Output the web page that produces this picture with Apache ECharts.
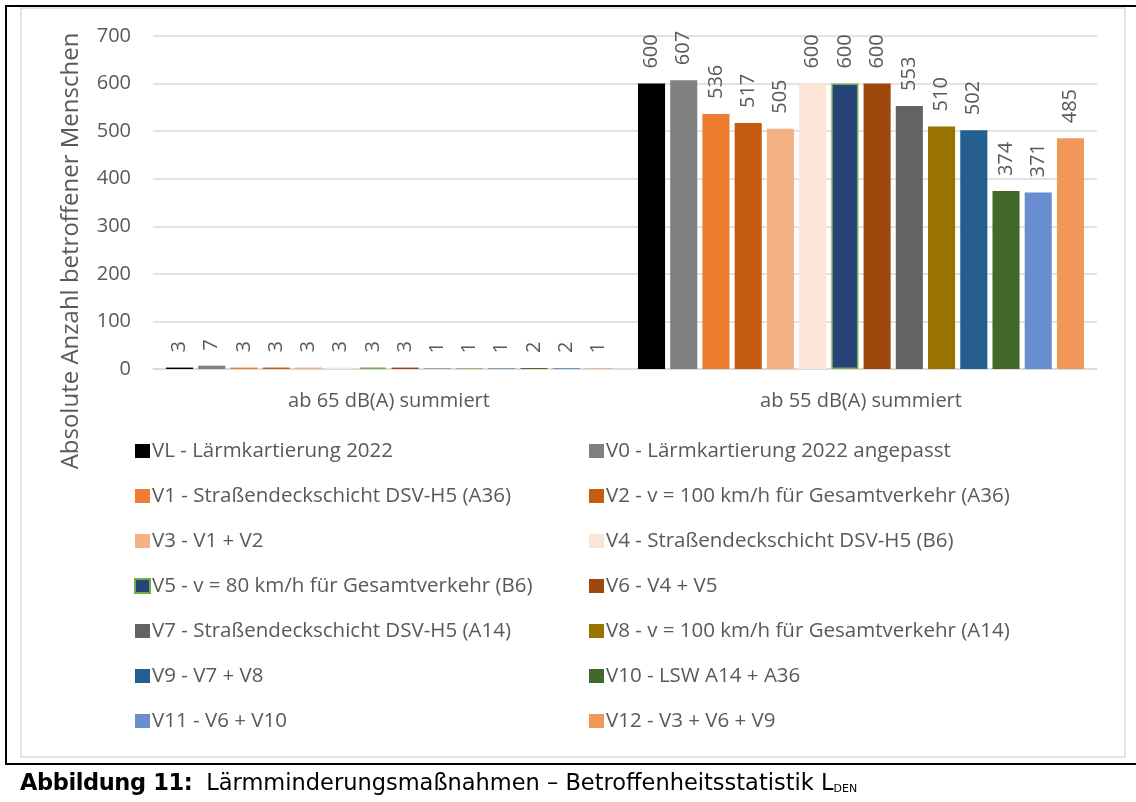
<html>
    <head>
        <meta charset="utf-8">
        <title>Betroffenheitsstatistik</title>
        <script src="https://cdn.jsdelivr.net/npm/echarts@6/dist/echarts.min.js"></script>
        <style>
            body { margin: 0; background: #fff; overflow: hidden; }
            #frame {
                position: absolute; left: 5px; top: 5px; width: 1200px; height: 756px;
                border-left: 2px solid #000; border-top: 2px solid #000; border-bottom: 2px solid #000;
            }
            #chart { position: absolute; left: 0; top: 0; width: 1136px; height: 802px; }
            #caption {
                position: absolute; left: 20px; top: 768px; font-family: "DejaVu Sans", sans-serif;
                font-size: 22.5px; line-height: 28px; color: #000; white-space: nowrap;
            }
            #caption b { font-weight: 700; margin-right: 14px; letter-spacing: -0.4px; }
            #caption sub { font-size: 11px; vertical-align: -2px; }
        </style>
    </head>
    <body>
        <div id="frame"></div>
        <div id="chart"></div>
        <div id="caption"><b>Abbildung 11:</b>Lärmminderungsmaßnahmen – Betroffenheitsstatistik L<sub>DEN</sub></div>
        <script type="text/javascript">
            // Kategorien (x-Achse)
            var categories = ['ab 65 dB(A) summiert', 'ab 55 dB(A) summiert'];
            // Varianten
            var seriesNames = [
                'VL - Lärmkartierung 2022',
                'V0 - Lärmkartierung 2022 angepasst',
                'V1 - Straßendeckschicht DSV-H5 (A36)',
                'V2 - v = 100 km/h für Gesamtverkehr (A36)',
                'V3 - V1 + V2',
                'V4 - Straßendeckschicht DSV-H5 (B6)',
                'V5 - v = 80 km/h für Gesamtverkehr (B6)',
                'V6 - V4 + V5',
                'V7 - Straßendeckschicht DSV-H5 (A14)',
                'V8 - v = 100 km/h für Gesamtverkehr (A14)',
                'V9 - V7 + V8',
                'V10 - LSW A14 + A36',
                'V11 - V6 + V10',
                'V12 - V3 + V6 + V9'
            ];
            var colors = ['#000000', '#808080', '#ED7D31', '#C55A11', '#F4B183', '#FBE5D6', '#264478',
                          '#9E480E', '#636363', '#997300', '#255E91', '#43682B', '#698ED0', '#F1975A'];
            // Werte je Variante
            var ab65 = [3, 7, 3, 3, 3, 3, 3, 3, 1, 1, 1, 2, 2, 1];
            var ab55 = [600, 607, 536, 517, 505, 600, 600, 600, 553, 510, 502, 374, 371, 485];
            var yTicks = [0, 700, 100];

            var textColor = '#595959';
            var font = 'Open Sans';

            var series = [];
            for (var i = 0; i < seriesNames.length; i++) {
                var s = {
                    name: seriesNames[i],
                    type: 'bar',
                    data: [ab65[i], ab55[i]],
                    barCategoryGap: '5.5%',
                    barGap: '19%',
                    itemStyle: { color: colors[i] },
                    label: {
                        show: true,
                        position: 'top',
                        rotate: 90,
                        align: 'left',
                        verticalAlign: 'middle',
                        distance: 15,
                        color: textColor,
                        fontFamily: font,
                        fontSize: 20
                    }
                };
                if (i == 6) {
                    s.itemStyle.borderColor = '#70AD47';
                    s.itemStyle.borderWidth = 1.5;
                }
                series.push(s);
            }

            var leftCol = [], rightCol = [];
            for (var j = 0; j < seriesNames.length; j++) {
                if (j % 2 == 0) leftCol.push(seriesNames[j]); else rightCol.push(seriesNames[j]);
            }
            var legendBase = {
                orient: 'vertical',
                top: 440,
                padding: 0,
                itemWidth: 15,
                itemHeight: 14,
                itemGap: 23,
                icon: 'rect',
                selectedMode: false,
                textStyle: { color: textColor, fontFamily: font, fontSize: 20.5, lineHeight: 22, padding: [0, 0, 0, -3] }
            };

            var myChart = echarts.init(document.getElementById('chart'));
            var option = {
                animation: false,
                color: colors,
                grid: { left: 153, right: 39, top: 36, bottom: 433 },
                legend: [
                    Object.assign({}, legendBase, { left: 134, data: leftCol }),
                    Object.assign({}, legendBase, { left: 589, data: rightCol })
                ],
                xAxis: {
                    type: 'category',
                    data: categories,
                    axisTick: { show: false },
                    axisLine: { lineStyle: { color: '#D9D9D9', width: 1.5 } },
                    axisLabel: { color: textColor, fontFamily: font, fontSize: 20, margin: 22 }
                },
                yAxis: {
                    type: 'value',
                    min: yTicks[0],
                    max: yTicks[1],
                    interval: yTicks[2],
                    axisLine: { show: false },
                    axisTick: { show: false },
                    splitLine: { lineStyle: { color: '#D9D9D9', width: 1.5 } },
                    axisLabel: { color: textColor, fontFamily: font, fontSize: 20, margin: 22 }
                },
                graphic: [
                    {
                        type: 'rect',
                        shape: { x: 21, y: 8, width: 1104, height: 749 },
                        style: { fill: '#fff', stroke: '#D9D9D9', lineWidth: 1.5 },
                        z: -10
                    },
                    {
                        type: 'text',
                        x: 71,
                        y: 251,
                        rotation: Math.PI / 2,
                        style: {
                            text: 'Absolute Anzahl betroffener Menschen',
                            fill: textColor,
                            font: '24px "Open Sans"',
                            textAlign: 'center',
                            textVerticalAlign: 'middle'
                        }
                    }
                ],
                series: series
            };
            myChart.setOption(option, true);
        </script>
    </body>
</html>
